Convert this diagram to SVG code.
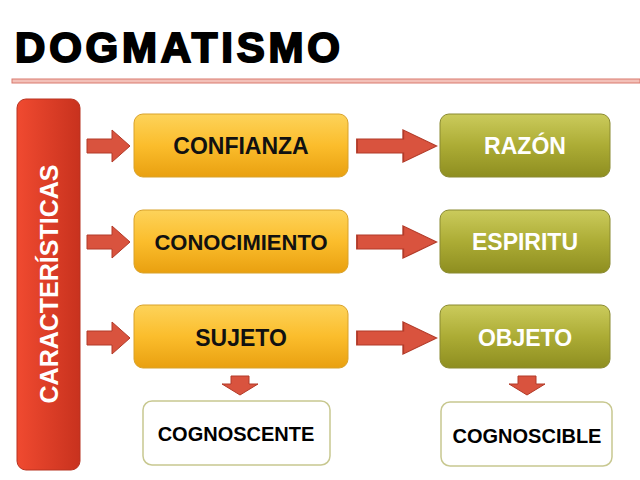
<svg xmlns="http://www.w3.org/2000/svg" width="640" height="480" viewBox="0 0 640 480">
<defs>
<linearGradient id="or" x1="0" y1="0" x2="0" y2="1"><stop offset="0" stop-color="#fdd35a"/><stop offset="0.5" stop-color="#fbbd2c"/><stop offset="1" stop-color="#e9a010"/></linearGradient>
<linearGradient id="gr" x1="0" y1="0" x2="0" y2="1"><stop offset="0" stop-color="#cbcb5c"/><stop offset="0.5" stop-color="#acac35"/><stop offset="1" stop-color="#8e8e20"/></linearGradient>
<linearGradient id="rd" x1="0" y1="0" x2="1" y2="0"><stop offset="0" stop-color="#f04a30"/><stop offset="1" stop-color="#c8321e"/></linearGradient>
<path id="ah" d="M0,-7 H25 V-16 L43,0 L25,16 V7 H0 Z"/>
<path id="av" d="M-9,0 H9 V8 H18 L0,19 L-18,8 H-9 Z"/>
</defs>
<style>
.t{font-family:"Liberation Sans",Arial,sans-serif;font-weight:bold;text-anchor:middle}
.o{fill:url(#or);stroke:#d9a22a;stroke-width:1}
.g{fill:url(#gr);stroke:#8a8a30;stroke-width:1}
.w{fill:#fff;stroke:#c8c890;stroke-width:1.5}
.a{fill:#d9533e;stroke:#b23a28;stroke-width:1}
</style>
<rect width="640" height="480" fill="#fff"/>
<text x="15" y="62" font-family="'Liberation Sans',Arial,sans-serif" font-weight="900" font-size="42" stroke="#000" stroke-width="2" textLength="325">DOGMATISMO</text>
<rect x="12" y="79" width="628" height="4" fill="#f3c0b8" stroke="#d97a6e" stroke-width="1"/>
<g id="caracteristicas"><rect x="17" y="99" width="63" height="371" rx="9" fill="url(#rd)" stroke="#b83220"/>
<text class="t" transform="translate(58,284) rotate(-90)" font-size="25" fill="#fff">CARACTERÍSTICAS</text></g>
<g id="connectors">
<use href="#ah" x="87" y="146" class="a"/><use href="#ah" x="87" y="242" class="a"/><use href="#ah" x="87" y="338" class="a"/>
<g transform="translate(357,146) scale(1.85,1)"><use href="#ah" class="a" stroke-width="0.6"/></g>
<g transform="translate(357,242) scale(1.85,1)"><use href="#ah" class="a" stroke-width="0.6"/></g>
<g transform="translate(357,338) scale(1.85,1)"><use href="#ah" class="a" stroke-width="0.6"/></g>
<use href="#av" x="240" y="376" class="a"/><use href="#av" x="527" y="376" class="a"/>
</g>
<g id="confianza"><rect class="o" x="134" y="114" width="214" height="63" rx="9"/><text class="t" x="241" y="154" font-size="23" fill="#111">CONFIANZA</text></g>
<g id="conocimiento"><rect class="o" x="134" y="210" width="214" height="63" rx="9"/><text class="t" x="241" y="250" font-size="22" fill="#111">CONOCIMIENTO</text></g>
<g id="sujeto"><rect class="o" x="134" y="305" width="214" height="63" rx="9"/><text class="t" x="241" y="346" font-size="23" fill="#111">SUJETO</text></g>
<g id="razon"><rect class="g" x="440" y="114" width="170" height="63" rx="9"/><text class="t" x="525" y="154" font-size="23" fill="#fff">RAZÓN</text></g>
<g id="espiritu"><rect class="g" x="440" y="210" width="170" height="63" rx="9"/><text class="t" x="525" y="250" font-size="23" fill="#fff">ESPIRITU</text></g>
<g id="objeto"><rect class="g" x="440" y="305" width="170" height="63" rx="9"/><text class="t" x="525" y="346" font-size="23" fill="#fff">OBJETO</text></g>
<g id="cognoscente"><rect class="w" x="143" y="401" width="187" height="64" rx="9"/><text class="t" x="236" y="441" font-size="20" fill="#000">COGNOSCENTE</text></g>
<g id="cognoscible"><rect class="w" x="441" y="402" width="171" height="64" rx="9"/><text class="t" x="527" y="443" font-size="20" fill="#000">COGNOSCIBLE</text></g>
</svg>
